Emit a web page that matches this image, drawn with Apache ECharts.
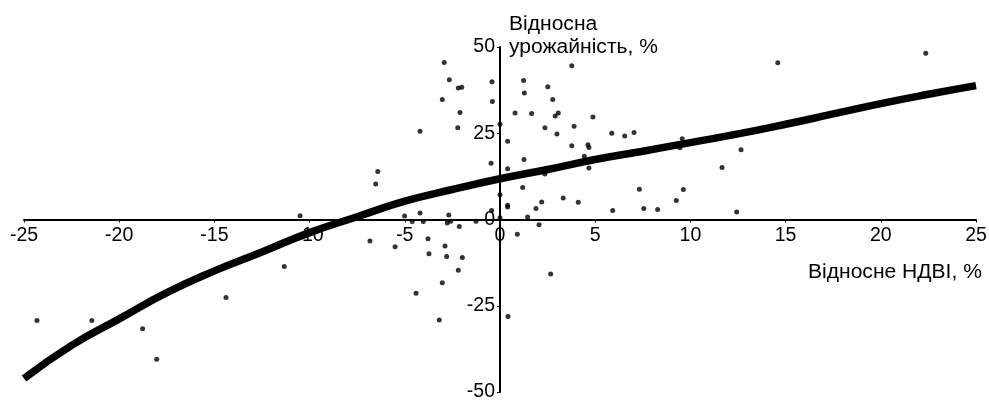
<!DOCTYPE html>
<html>
<head>
<meta charset="utf-8">
<script src="https://cdn.jsdelivr.net/npm/echarts@6/dist/echarts.min.js"></script>
<style>
html,body{margin:0;padding:0;background:#fff;}
#chart{width:989px;height:401px;}
</style>
</head>
<body>
<div id="chart"></div>
<script>
// Relative NDVI, % (x) and relative yield, % (y) for the scatter points
const ndvi = [
  -2.93,-2.66,-2.19,-2.01,-3.03,-2.10,-2.22,-4.20,-0.42,-0.40,
  0.00,-0.47,-6.42,-6.53,3.77,1.24,1.28,2.51,2.77,0.79,
  1.66,3.06,2.90,4.88,2.36,3.89,2.99,5.87,6.55,7.04,
  0.40,3.77,4.62,4.67,4.43,1.26,0.40,4.67,2.36,1.19,
  7.32,9.57,9.45,12.66,11.66,9.63,9.26,7.55,8.28,12.43,
  5.92,0.00,0.40,0.40,2.19,1.89,3.32,4.11,0.00,1.45,
  2.05,0.91,2.66,0.42,-0.44,-5.01,-4.20,-2.69,-4.61,-4.03,
  -2.77,-2.59,-2.14,-1.26,-6.83,-5.51,-3.78,-2.89,-3.73,-2.80,
  -1.98,-2.19,-3.03,-4.41,-3.19,-24.32,-21.44,-18.77,-18.03,-14.39,
  -11.33,-10.50,14.59,22.36
];
const yieldRel = [
  45.5,40.5,38.1,38.3,34.8,31.0,26.6,25.6,39.9,34.2,
  27.6,16.3,13.9,10.3,44.6,40.3,36.7,38.5,34.8,30.9,
  30.7,30.9,30.0,29.7,26.6,27.0,24.8,25.0,24.2,25.2,
  22.7,21.4,21.7,20.9,18.3,17.4,14.7,14.9,13.2,9.3,
  8.8,23.4,20.8,20.2,15.1,8.7,5.5,3.2,2.9,2.2,
  2.6,7.2,4.1,3.6,5.1,3.2,6.2,5.0,0.5,0.7,
  -1.5,-4.3,-15.8,-28.1,2.6,1.0,1.9,1.3,-0.6,-0.6,
  -1.0,-0.5,-2.0,-0.5,-6.2,-7.9,-5.6,-7.7,-9.9,-10.7,
  -11.0,-14.7,-18.3,-21.4,-29.1,-29.3,-29.3,-31.7,-40.5,-22.6,
  -13.6,1.1,45.4,48.2
];

// Trend curve
const trendX = [-25,-22.5,-20,-17.5,-15,-12.5,-10,-7.5,-5,-2.5,0,2.5,5,7.5,10,12.5,15,17.5,20,22.5,25];
const trendY = [-46.1,-36.5,-28.8,-21.2,-14.9,-9.4,-3.8,0.8,5.3,8.7,11.8,14.5,17.4,19.8,22.3,24.8,27.6,30.6,33.6,36.3,38.8];

// Axis settings
const xTicks = {min: -25, max: 25, interval: 5};
const yTicks = {min: -50, max: 50, interval: 25};
const yTitle = 'Відносна\nурожайність, %';
const xTitle = 'Відносне НДВІ, %';

const FONT = '"Liberation Sans", Arial, sans-serif';
const FS = 19.5;

const GRID = {left: 24, right: 13, top: 47, bottom: 9};
const W = 989, H = 401;
const gw = W - GRID.left - GRID.right;
const gh = H - GRID.top - GRID.bottom;
// distance from the grid's bottom / left edge to the zero lines
const xAxisOffset = -gh * (0 - yTicks.min) / (yTicks.max - yTicks.min);
const yAxisOffset = -gw * (0 - xTicks.min) / (xTicks.max - xTicks.min);

const points = ndvi.map((x, i) => [x, yieldRel[i]]);
const trend = trendX.map((x, i) => [x, trendY[i]]);

const chart = echarts.init(document.getElementById('chart'), null, {renderer: 'canvas'});
chart.setOption({
  animation: false,
  backgroundColor: '#fff',
  grid: Object.assign({containLabel: false, outerBoundsMode: 'none'}, GRID),
  xAxis: {
    type: 'value',
    position: 'bottom',
    offset: xAxisOffset,
    min: xTicks.min, max: xTicks.max, interval: xTicks.interval,
    axisLine: {onZero: false, lineStyle: {color: '#000', width: 2}},
    axisTick: {show: true, length: 3, lineStyle: {color: '#000', width: 1}},
    axisLabel: {color: '#000', fontFamily: FONT, fontSize: FS, margin: 6, showMinLabel: true, showMaxLabel: true},
    splitLine: {show: false}
  },
  yAxis: {
    type: 'value',
    position: 'left',
    offset: yAxisOffset,
    min: yTicks.min, max: yTicks.max, interval: yTicks.interval,
    axisLine: {onZero: false, lineStyle: {color: '#000', width: 2}},
    axisTick: {show: true, length: 3, lineStyle: {color: '#000', width: 1}},
    axisLabel: {color: '#000', fontFamily: FONT, fontSize: FS, margin: 5, showMinLabel: true, showMaxLabel: true},
    splitLine: {show: false}
  },
  graphic: [
    {type: 'text', x: 509, y: 13, scaleX: 1.08,
     style: {text: yTitle, font: FS + 'px ' + FONT, fill: '#000', lineHeight: 23, align: 'left', verticalAlign: 'top'}},
    {type: 'text', x: 808, y: 263, scaleX: 1.08,
     style: {text: xTitle, font: FS + 'px ' + FONT, fill: '#000', align: 'left', verticalAlign: 'top'}}
  ],
  series: [
    {
      type: 'scatter',
      data: points,
      symbol: 'circle',
      symbolSize: 5,
      itemStyle: {color: '#000'},
      z: 3
    },
    {
      type: 'line',
      data: trend,
      smooth: true,
      showSymbol: false,
      lineStyle: {color: '#000', width: 7.5},
      z: 4
    }
  ]
});
</script>
</body>
</html>
